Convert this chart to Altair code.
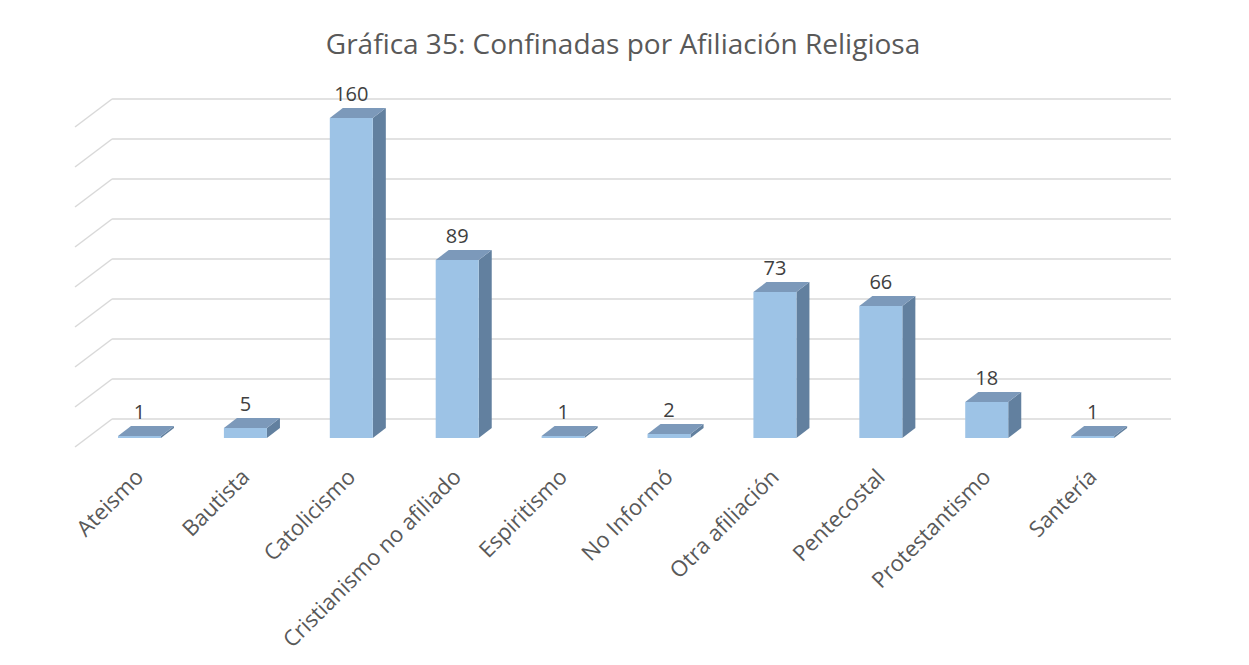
import json
import altair as alt
import pandas as pd

# ---- data ----
categories = ["Ateismo", "Bautista", "Catolicismo", "Cristianismo no afiliado",
              "Espiritismo", "No Informó", "Otra afiliación", "Pentecostal",
              "Protestantismo", "Santería"]
values = [1, 5, 160, 89, 1, 2, 73, 66, 18, 1]
grid_ticks = [0, 20, 40, 60, 80, 100, 120, 140, 160]
chart_title = "Gráfica 35: Confinadas por Afiliación Religiosa"

# ---- pseudo-3D geometry (style, in scale units) ----
HW = 0.203        # half width of a bar's front face (category units)
DX = 0.123        # bar depth, horizontal
DY = 5.0          # bar depth, vertical (value units)
WALL_DX = 0.35    # wall depth, horizontal
WALL_FRONT = -4.5 # floor front edge
WALL_BACK = 9.5   # back wall zero level
X_MIN = -0.609
X_MAX = 9.74
Y_MAX = 169.5

FONT = "Open Sans"
FRONT = "#9DC3E6"
SIDE = "#62809F"
TOP = "#7C99BA"
GRID = "#D9D9D9"

idx = list(range(len(categories)))
bars = pd.DataFrame({"i": idx, "cat": categories, "value": values})
bars["x0"] = bars["i"] - HW
bars["x1"] = bars["i"] + HW
bars["zero"] = 0.0
bars["top"] = bars["value"] + DY

side_rows, top_rows = [], []
for i, v in zip(idx, values):
    side_rows += [
        {"bar": i, "x": i + HW, "y": v, "y2": 0.0},
        {"bar": i, "x": i + HW + DX, "y": v + DY, "y2": DY},
    ]
    top_rows += [
        {"bar": i, "x": i - HW, "y": v, "y2": v},
        {"bar": i, "x": i - HW + DX, "y": v + DY, "y2": v},
        {"bar": i, "x": i + HW, "y": v + DY, "y2": v},
        {"bar": i, "x": i + HW + DX, "y": v + DY, "y2": v + DY},
    ]
side = pd.DataFrame(side_rows)
topf = pd.DataFrame(top_rows)

grid_rows = []
for t in grid_ticks:
    grid_rows.append({"x": X_MIN + WALL_DX, "x2": X_MAX, "y": t + WALL_BACK, "y2": t + WALL_BACK})
    grid_rows.append({"x": X_MIN, "x2": X_MIN + WALL_DX, "y": t + WALL_FRONT, "y2": t + WALL_BACK})
grid = pd.DataFrame(grid_rows)

xs = alt.Scale(domain=[X_MIN, X_MAX], nice=False, zero=False)
ys = alt.Scale(domain=[WALL_FRONT, Y_MAX], nice=False, zero=False)

label_expr = json.dumps(categories, ensure_ascii=False) + "[datum.value]"
xax = alt.Axis(values=idx, labelExpr=label_expr, labelAngle=-45, labelAlign="right",
               labelBaseline="middle", labelFontSize=22, labelFont=FONT,
               labelColor="#595959", domain=False, ticks=False, grid=False,
               title=None, labelPadding=26, labelOverlap=False, labelFlush=False,
               labelLimit=0)

grid_layer = alt.Chart(grid).mark_rule(color=GRID, strokeWidth=1.5).encode(
    x=alt.X("x:Q", scale=xs, axis=xax),
    x2="x2:Q",
    y=alt.Y("y:Q", scale=ys, axis=None),
    y2="y2:Q",
)

side_layer = alt.Chart(side).mark_area(color=SIDE, opacity=1).encode(
    x=alt.X("x:Q", scale=xs, axis=xax),
    y=alt.Y("y:Q", scale=ys, axis=None),
    y2="y2:Q",
    detail="bar:N",
)

top_layer = alt.Chart(topf).mark_area(color=TOP, opacity=1).encode(
    x=alt.X("x:Q", scale=xs, axis=xax),
    y=alt.Y("y:Q", scale=ys, axis=None),
    y2="y2:Q",
    detail="bar:N",
)

front_layer = alt.Chart(bars).mark_rect(color=FRONT).encode(
    x=alt.X("x0:Q", scale=xs, axis=xax),
    x2="x1:Q",
    y=alt.Y("zero:Q", scale=ys, axis=None),
    y2="value:Q",
)

label_layer = alt.Chart(bars).mark_text(
    baseline="alphabetic", dy=-7, fontSize=20, font=FONT, color="#404040"
).encode(
    x=alt.X("i:Q", scale=xs, axis=xax),
    y=alt.Y("top:Q", scale=ys, axis=None),
    text="value:Q",
)

chart = alt.layer(grid_layer, side_layer, top_layer, front_layer, label_layer).properties(
    width=1096,
    height=348,
    autosize=alt.AutoSizeParams(type="none"),
    padding={"left": 67, "top": 91, "right": 70, "bottom": 210},
    title=alt.TitleParams(chart_title, fontSize=28, font=FONT, color="#595959",
                          fontWeight="normal", anchor="middle", offset=25),
    background="white",
).configure_view(stroke=None)

chart.save("out.html", embed_options={"renderer": "svg", "actions": False})
